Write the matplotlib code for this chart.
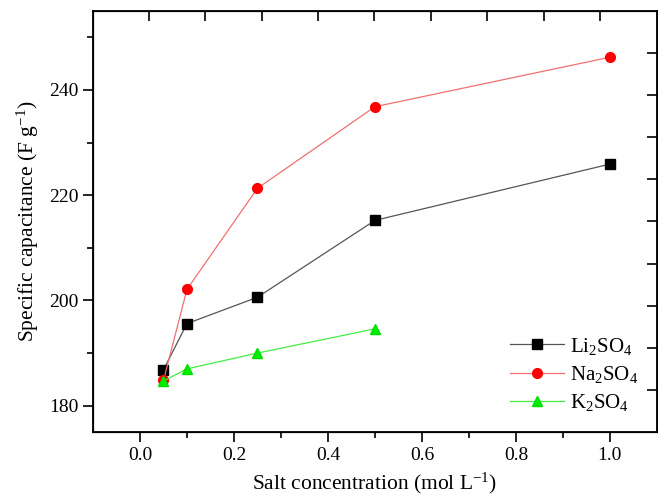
import numpy as np
import matplotlib
matplotlib.use("Agg")
import matplotlib.pyplot as plt

plt.rcParams['font.family'] = ['Liberation Serif', 'DejaVu Serif']
plt.rcParams['mathtext.fontset'] = 'custom'
plt.rcParams['mathtext.rm'] = 'Liberation Serif'
plt.rcParams['mathtext.it'] = 'Liberation Serif:italic'

# Data
conc = [0.05, 0.1, 0.25, 0.5, 1.0]
li2so4 = [186.8, 195.6, 200.6, 215.2, 225.9]
na2so4 = [184.8, 202.1, 221.3, 236.8, 246.2]
conc_k = [0.05, 0.1, 0.25, 0.5]
k2so4 = [184.7, 187.0, 190.0, 194.6]

fig = plt.figure(figsize=(6.58, 4.96), dpi=100)
ax = fig.add_axes([0.1413, 0.129, 0.857, 0.849])

ax.plot(conc, li2so4, '-s', color='#555555', lw=0.9, ms=6.5,
        mfc='black', mec='black', label='Li$_2$SO$_4$')
ax.plot(conc, na2so4, '-o', color='#f07070', lw=0.9, ms=7,
        mfc='#ff0000', mec='#ff0000', label='Na$_2$SO$_4$')
ax.plot(conc_k, k2so4, '-^', color='#44ee44', lw=0.9, ms=7.5,
        mfc='#00ee00', mec='#00dd00', label='K$_2$SO$_4$')

ax.set_xlim(-0.1, 1.1)
ax.set_ylim(175, 255)
ax.set_xticks([0.0, 0.2, 0.4, 0.6, 0.8, 1.0])
ax.set_xticks(np.arange(0.1, 1.1, 0.2), minor=True)
ax.set_yticks([180, 200, 220, 240])
ax.set_yticks([190, 210, 230, 250], minor=True)
ax.tick_params(which='major', direction='out', length=7, width=1.2, labelsize=14)
ax.tick_params(which='minor', direction='out', length=4, width=1.2)
for s in ax.spines.values():
    s.set_linewidth(1.3)

# offset top / right tick rows as in the original figure
top = ax.twiny()
top.set_xlim(ax.get_xlim())
top.set_xticks(0.019 + 0.12 * np.arange(9))
top.tick_params(axis='x', direction='in', length=7, width=1.2, labeltop=False)
right = ax.twinx()
right.set_ylim(ax.get_ylim())
right.set_yticks(183 + 8 * np.arange(9))
right.tick_params(axis='y', direction='in', length=7, width=1.2, labelright=False)

ax.set_xlabel('Salt concentration (mol L$^{-1}$)', fontsize=15.5, labelpad=5)
ax.set_ylabel('Specific capacitance (F g$^{-1}$)', fontsize=15.5, labelpad=6)

ax.legend(loc='lower right', bbox_to_anchor=(1.0, 0.0), frameon=False,
          fontsize=15, handlelength=2.6, labelspacing=0.35, handletextpad=0.3)

fig.savefig('out.png', dpi=100)
